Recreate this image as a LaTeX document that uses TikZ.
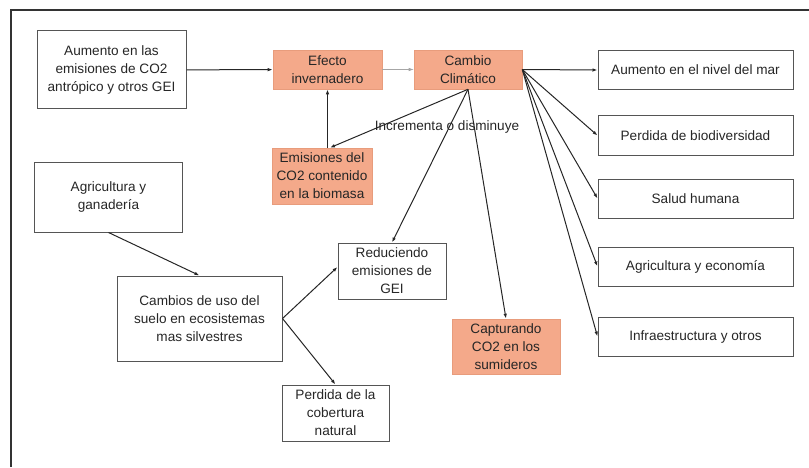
\documentclass[tikz,border=0pt]{standalone}
\usepackage{fontspec}
\setmainfont{Liberation Sans}
\usepackage{xcolor}
\usetikzlibrary{arrows.meta}
\definecolor{salmon}{RGB}{244,169,138}
\definecolor{salmonline}{RGB}{232,156,124}
\definecolor{boxline}{RGB}{85,85,85}

\begin{document}
\begin{tikzpicture}[x=1pt, y=1pt,
  every node/.style={font=\fontsize{13.6}{18}\selectfont, text=black!85, align=center, inner sep=2pt},
  box/.style={draw=boxline, line width=1pt},
  hot/.style={fill=salmon, draw=salmonline, line width=.6pt},
  link/.style={-{Latex[length=5pt,width=3.5pt]}, line width=1pt, black!85}]
  \useasboundingbox (0,0) rectangle (809,467);
  \draw[line width=1.4pt, black!80] (11,0) -- (11,457) -- (809,457);
  % top row
  \node[box, minimum width=149, minimum height=78] (aum) at (111.5,397) {Aumento en las\\emisiones de CO2\\antrópico y otros GEI};
  \node[hot, minimum width=109, minimum height=39] (efecto) at (327.5,397.5) {Efecto\\invernadero};
  \node[hot, minimum width=108, minimum height=39] (cambio) at (468,397.5) {Cambio\\Climático};
  \node[hot, minimum width=100, minimum height=56] (emis) at (322,291) {Emisiones del\\CO2 contenido\\en la biomasa};
  % left side
  \node[box, minimum width=148, minimum height=70] (agri) at (108.5,270) {Agricultura y\\ganadería};
  \node[box, minimum width=165, minimum height=85] (usos) at (199.5,148.5) {Cambios de uso del\\suelo en ecosistemas\\mas silvestres};
  \node[box, minimum width=108, minimum height=56] (reduc) at (392,196) {Reduciendo\\emisiones de\\GEI};
  \node[box, minimum width=107, minimum height=56] (cober) at (335.5,54) {Perdida de la\\cobertura\\natural};
  \node[hot, minimum width=108, minimum height=55] (captur) at (506,120.5) {Capturando\\CO2 en los\\sumideros};
  % effects
  \node[box, minimum width=195, minimum height=39] (mar) at (695.5,397) {Aumento en el nivel del mar};
  \node[box, minimum width=195, minimum height=39] (biodiv) at (695.5,331.5) {Perdida de biodiversidad};
  \node[box, minimum width=195, minimum height=39] (salud) at (695.5,268.5) {Salud humana};
  \node[box, minimum width=195, minimum height=39] (econ) at (695.5,200.5) {Agricultura y economía};
  \node[box, minimum width=195, minimum height=39] (infra) at (695.5,130.5) {Infraestructura y otros};
  \node (incr) at (447,340) {Incrementa o disminuye};

  \draw[link] (aum) -- (efecto);
  \draw[link, black!35, line width=.6pt] (efecto) -- (cambio);
  \draw[link] (emis.north -| efecto.south) -- (efecto.south);
  \draw[link] (cambio.south) -- ([xshift=8pt]emis.north);
  \draw[link] (cambio.south) -- (reduc.north);
  \draw[link] (cambio.south) -- (captur.north);
  \foreach \dest in {mar, biodiv, salud, econ, infra}
    \draw[link] (cambio.east) -- (\dest.west);
  \draw[link] (agri.south) -- (usos.north);
  \draw[link] (usos.east) -- ([yshift=4pt]reduc.west);
  \draw[link] (usos.east) -- (cober.north);
\end{tikzpicture}
\end{document}
